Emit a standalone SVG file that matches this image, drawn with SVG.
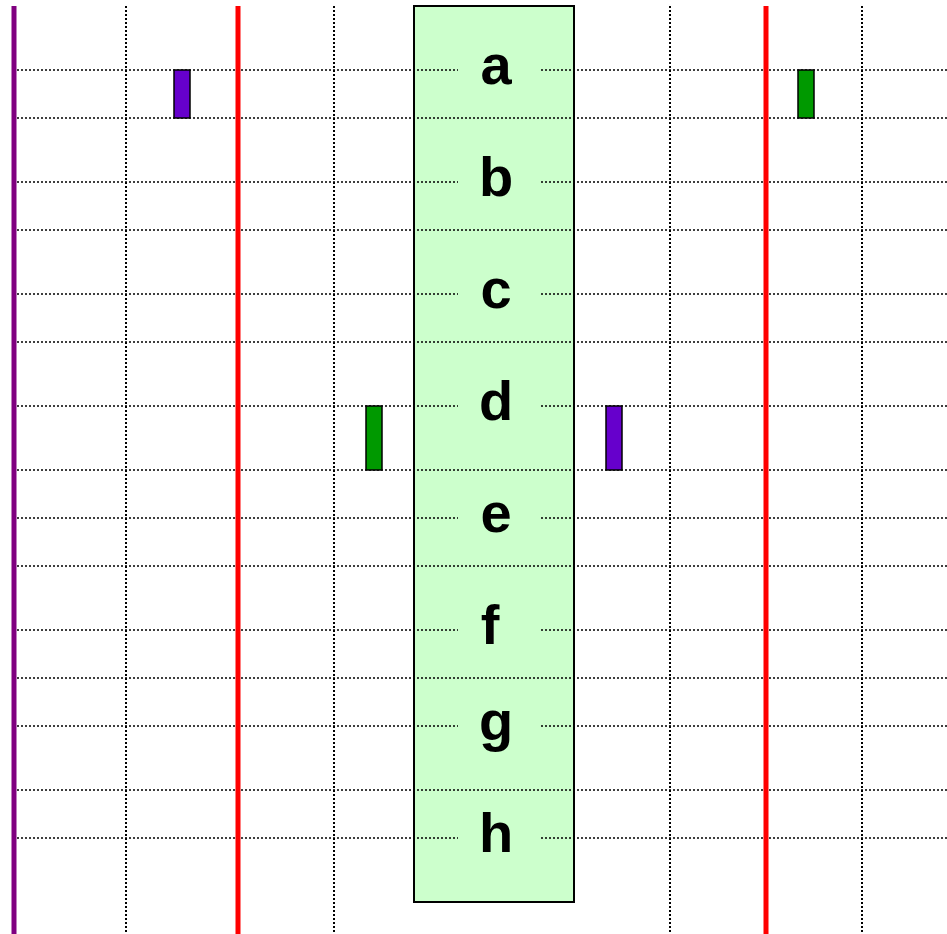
<svg xmlns="http://www.w3.org/2000/svg" width="947" height="934" viewBox="0 0 947 934">
<style>
.grid{stroke:#000;stroke-width:1.5;stroke-dasharray:2 2;fill:none}
.vgrid{stroke:#000;stroke-width:2;stroke-dasharray:2 2;fill:none}
.lbl{font-family:"Liberation Sans",Arial,sans-serif;font-weight:bold;font-size:56px;text-anchor:middle;fill:#000}
.act{stroke:#000;stroke-width:1.5}
</style>
<rect width="947" height="934" fill="#fff"/>
<g id="box">
<rect x="414" y="6" width="160" height="896" fill="#ccffcc" stroke="#000" stroke-width="2"/>
</g>
<g id="connectors">
<path class="grid" d="M17 118H947M17 230H947M17 342H947M17 470H947M17 566H947M17 678H947M17 790H947"/>
<path class="grid" d="M17 70H458M541 70H947M17 182H458M541 182H947M17 294H458M541 294H947M17 406H458M541 406H947M17 518H458M541 518H947M17 630H458M541 630H947M17 726H458M541 726H947M17 838H458M541 838H947"/>
<path class="vgrid" d="M126 6V934M334 6V934M670 6V934M862 6V934"/>
<line x1="14" y1="6" x2="14" y2="934" stroke="#800080" stroke-width="5"/>
<line x1="238" y1="6" x2="238" y2="934" stroke="#ff0000" stroke-width="5"/>
<line x1="766" y1="6" x2="766" y2="934" stroke="#ff0000" stroke-width="5"/>
</g>
<g id="act1"><rect class="act" x="174" y="70" width="16" height="48" fill="#6600cc"/></g>
<g id="act2"><rect class="act" x="798" y="70" width="16" height="48" fill="#009900"/></g>
<g id="act3"><rect class="act" x="366" y="406" width="16" height="64" fill="#009900"/></g>
<g id="act4"><rect class="act" x="606" y="406" width="16" height="64" fill="#6600cc"/></g>
<g id="labels">
<text class="lbl" x="496" y="84">a</text>
<text class="lbl" x="496" y="196">b</text>
<text class="lbl" x="496" y="308">c</text>
<text class="lbl" x="496" y="420">d</text>
<text class="lbl" x="496" y="532">e</text>
<text class="lbl" x="490" y="644">f</text>
<text class="lbl" x="496" y="740">g</text>
<text class="lbl" x="496" y="852">h</text>
</g>
</svg>
